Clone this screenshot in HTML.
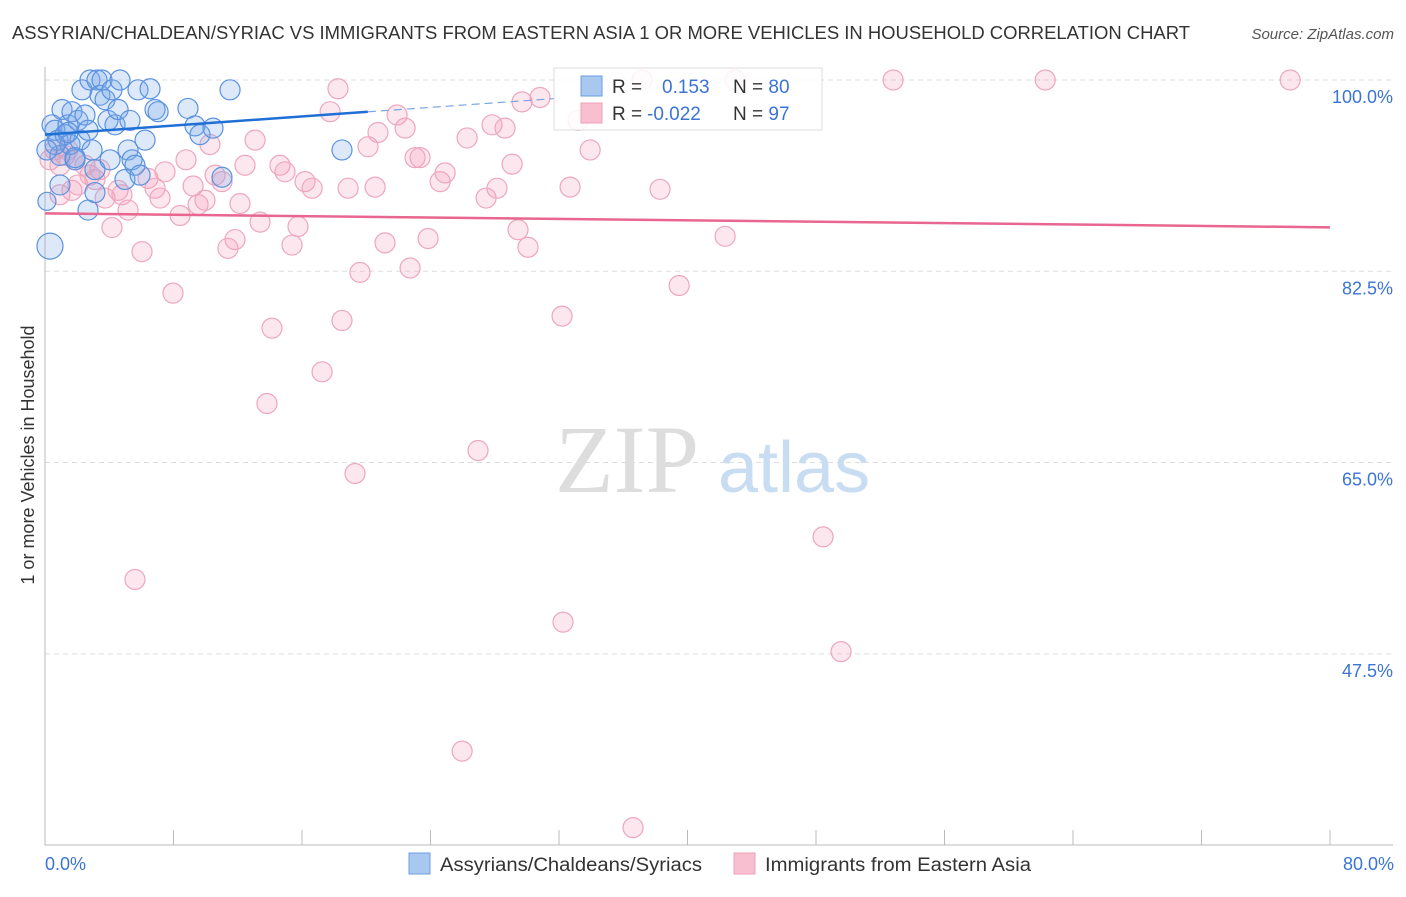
<!DOCTYPE html>
<html><head><meta charset="utf-8"><style>
body{margin:0;background:#fff;font-family:"Liberation Sans",sans-serif;}
</style></head><body>
<svg width="1406" height="892" xmlns="http://www.w3.org/2000/svg" font-family="Liberation Sans, sans-serif">
<text x="12" y="39" font-size="18" fill="#333" textLength="1178" lengthAdjust="spacingAndGlyphs">ASSYRIAN/CHALDEAN/SYRIAC VS IMMIGRANTS FROM EASTERN ASIA 1 OR MORE VEHICLES IN HOUSEHOLD CORRELATION CHART</text>
<text x="1394" y="39" font-size="15" fill="#555" font-style="italic" text-anchor="end">Source: ZipAtlas.com</text>
<g id="grid"></g>
<text x="555" y="492" font-size="96" fill="#ddd" font-family="Liberation Serif, serif">ZIP</text>
<text x="718" y="492" font-size="72" fill="#c8dcf2">atlas</text>
<g id="pts"></g>
<g id="lines"></g>
<text transform="translate(34,455) rotate(-90)" font-size="18" fill="#333" text-anchor="middle">1 or more Vehicles in Household</text>
<text x="45" y="870" font-size="18" fill="#3b74d4">0.0%</text>
<text x="1394" y="870" font-size="18" fill="#3b74d4" text-anchor="end">80.0%</text>
<g>
<rect x="554" y="68" width="268" height="62" fill="#fff" fill-opacity="0.85" stroke="#ddd"/>
<rect x="581" y="76" width="21" height="20" fill="#a9c8f0" stroke="#6b9ee0"/>
<rect x="581" y="103" width="21" height="20" fill="#f8bfd0" stroke="#eea0b8"/>
<text x="612" y="93" font-size="19" fill="#333">R = <tspan x="662" fill="#3b74d4">0.153</tspan><tspan x="733" fill="#333">N = </tspan><tspan fill="#3b74d4">80</tspan></text>
<text x="612" y="120" font-size="19" fill="#333">R = <tspan x="647" fill="#3b74d4">-0.022</tspan><tspan x="733" fill="#333">N = </tspan><tspan fill="#3b74d4"> 97</tspan></text>
</g>
<g>
<rect x="409" y="853" width="21" height="21" fill="#a9c8f0" stroke="#6b9ee0"/>
<text x="440" y="871" font-size="19" fill="#333" textLength="262" lengthAdjust="spacingAndGlyphs">Assyrians/Chaldeans/Syriacs</text>
<rect x="734" y="853" width="21" height="21" fill="#f8bfd0" stroke="#eea0b8"/>
<text x="765" y="871" font-size="19" fill="#333" textLength="266" lengthAdjust="spacingAndGlyphs">Immigrants from Eastern Asia</text>
</g>
</svg>
<script>
const yTicks=[100,82.5,65,47.5];
const yTickLabels=["100.0%","82.5%","65.0%","47.5%"];
const blueX=[0.12,0.31,0.44,0.62,0.81,0.93,1.06,1.25,1.43,1.56,1.68,1.87,2.05,2.18,2.3,2.49,2.68,2.8,2.93,3.11,3.24,3.42,3.55,3.74,3.92,4.05,4.17,4.36,4.55,4.67,4.98,5.17,5.29,5.42,5.6,5.79,5.92,6.23,6.54,6.85,7.04,8.9,9.34,9.65,10.46,11.02,11.52,18.49,1.43,2.68,3.11,0.93,1.87,0.62,0.12];
const blueY=[88.9,84.8,95.9,95.4,94.5,93.1,97.3,95,95.9,94.1,97.1,92.7,96.3,94.5,99.1,96.8,95.4,100,93.6,91.8,100,98.6,100,98.2,96.3,92.7,99.1,95.9,97.3,100,90.9,93.6,96.3,92.7,92.2,99.1,91.3,94.5,99.2,97.3,97.1,97.4,95.8,95,95.6,91.1,99.1,93.6,95.2,88.1,89.7,90.4,92.9,94.1,93.6];
const blueR=[9,13,10,10,10,10,10,10,10,10,10,10,10,10,10,10,10,10,10,10,10,10,10,10,10,10,10,10,10,10,10,10,10,10,10,10,10,10,10,10,10,10,10,10,10,10,10,10,10,10,10,10,10,10,10];
const pinkX=[0.31,0.62,0.93,1.25,1.68,2.05,2.49,2.8,3.11,3.42,3.74,4.17,4.55,4.79,5.17,5.6,6.04,6.41,6.85,7.16,7.47,7.97,8.41,8.78,9.22,9.53,9.96,10.27,10.59,11.02,11.39,11.83,12.14,12.45,13.08,13.39,13.82,14.13,14.63,14.94,15.38,15.75,16.19,16.63,17.25,17.75,18.24,18.49,18.87,19.3,19.61,20.11,20.55,20.73,21.17,21.92,22.42,22.73,23.04,23.35,23.85,24.6,24.91,25.97,26.28,26.96,27.46,27.83,28.14,28.64,29.08,29.45,29.7,30.07,30.82,32.19,32.25,32.69,33.19,33.94,36.61,37.17,38.29,39.48,42.34,42.96,48.44,49.56,52.8,62.27,77.52,0.93,1.87,1.43];
const pinkY=[92.7,93.6,92.2,93.1,89.9,90.4,92.2,91.3,90.9,91.8,89.2,86.5,89.9,89.5,88.1,54.3,84.3,91,90.1,89.2,91.6,80.5,87.6,92.7,90.3,88.6,89,94.1,91.3,90.7,84.6,85.4,88.7,92.2,94.5,87,70.4,77.3,92.2,91.6,84.9,86.6,90.7,90.1,73.3,97.1,99.2,78,90.1,64,82.4,93.9,90.2,95.2,85.1,96.8,95.6,82.8,92.9,92.9,85.5,90.7,91.5,38.6,94.7,66.1,89.2,95.9,90.1,95.6,92.3,86.3,98,84.7,98.4,78.4,50.4,90.2,96.3,93.6,31.6,100,90,81.2,85.7,100,58.2,47.7,100,100,100,89.5,92.7,93.6];
const blueFit=[95.0,0.104]; // intercept, slope
const pinkFit=[87.8,-0.016];
const X0=45,X1=1330,Y100=80,PXPER=10.93;
const sx=v=>X0+(X1-X0)*v/80;
const sy=v=>Y100+(100-v)*PXPER;
const NS="http://www.w3.org/2000/svg";
function mk(tag,attrs,parent){const e=document.createElementNS(NS,tag);for(const k in attrs)e.setAttribute(k,attrs[k]);parent.appendChild(e);return e;}
const grid=document.getElementById('grid');
yTicks.forEach((t,i)=>{
 const l=mk('line',{x1:45,x2:1393,y1:sy(t),y2:sy(t),stroke:'#ddd','stroke-dasharray':'5,4'},grid);
 
 
 const tx=mk('text',{x:1393,y:sy(t)+23,'font-size':18,fill:'#3b74d4','text-anchor':'end'},grid);
 tx.textContent=yTickLabels[i];
 
 
});
const ax=mk('line',{x1:45,x2:1393,y1:845,y2:845,stroke:'#bbb'},grid);


const ay=mk('line',{x1:45,x2:45,y1:67,y2:845,stroke:'#bbb'},grid);


for(let k=0;k<=10;k++){
 const t=mk('line',{x1:sx(k*8),x2:sx(k*8),y1:830,y2:845,stroke:'#bbb'},grid);
 
 
}
const pts=document.getElementById('pts');
pinkX.forEach((x,i)=>{
 const c=mk('circle',{cx:sx(x),cy:sy(pinkY[i]),r:10,fill:'rgba(244,160,188,0.25)',stroke:'#eea6bd','stroke-width':1.2},pts);
 
 
});
blueX.forEach((x,i)=>{
 const c=mk('circle',{cx:sx(x),cy:sy(blueY[i]),r:blueR[i],fill:'rgba(120,168,232,0.25)',stroke:'#5a92e0','stroke-width':1.2},pts);
 
 
});
const lines=document.getElementById('lines');
const bf=v=>blueFit[0]+blueFit[1]*v, pf=v=>pinkFit[0]+pinkFit[1]*v;
const b1=mk('line',{x1:sx(0),y1:sy(bf(0)),x2:sx(20.1),y2:sy(bf(20.1)),stroke:'#1f6fd6','stroke-width':2.5},lines);


const b2=mk('line',{x1:sx(20.1),y1:sy(bf(20.1)),x2:sx(31.8),y2:sy(bf(31.8)),stroke:'#7aa6e0','stroke-width':1.2,'stroke-dasharray':'8,5'},lines);


const p1=mk('line',{x1:sx(0),y1:sy(pf(0)),x2:sx(80),y2:sy(pf(80)),stroke:'#e8668f','stroke-width':2.5},lines);


</script>
</body></html>
